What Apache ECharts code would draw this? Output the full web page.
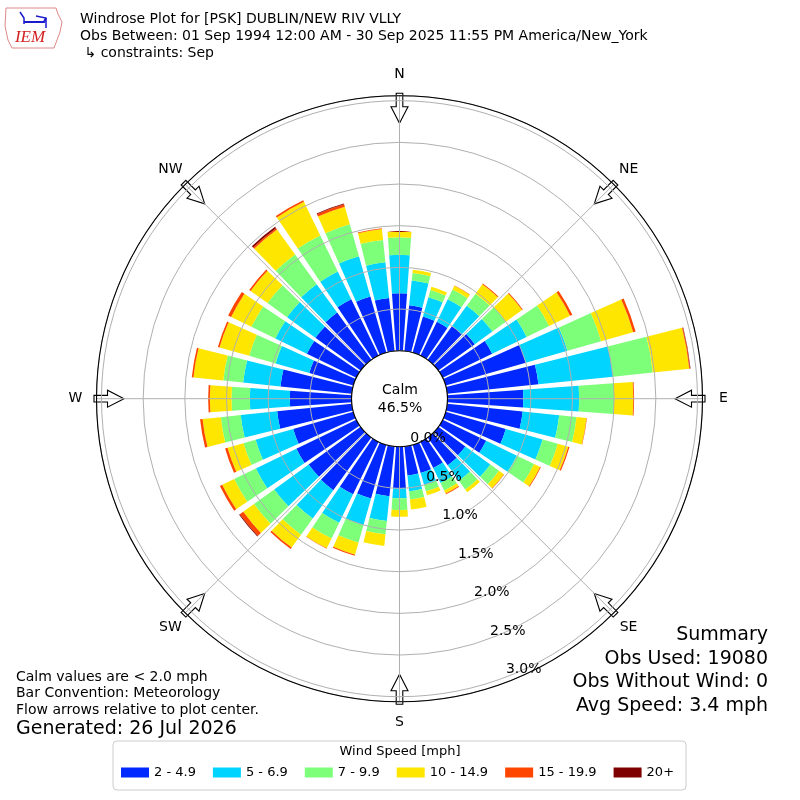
<!DOCTYPE html>
<html><head><meta charset="utf-8">
<script src="https://cdn.jsdelivr.net/npm/echarts@6/dist/echarts.min.js"></script>
<style>html,body{margin:0;padding:0;background:#fff}#c{width:800px;height:800px}</style>
</head><body><div id="c"></div>
<script>
// ---- data (percent of observations per 10-degree direction bin) ----
const directions = ['0','10','20','30','40','50','60','70','80','90','100','110','120','130','140','150','160','170',
  '180','190','200','210','220','230','240','250','260','270','280','290','300','310','320','330','340','350'];
const speed2to5   = [0.69,0.55,0.45,0.45,0.50,0.54,0.66,1.00,1.10,0.91,0.91,0.75,0.58,0.40,0.41,0.35,0.35,0.35,
  0.50,0.60,0.67,0.70,0.78,0.77,0.80,0.75,0.90,0.74,0.86,0.55,0.66,0.67,0.70,0.75,0.70,0.64];
const speed5to7   = [0.46,0.30,0.24,0.30,0.30,0.26,0.46,0.52,0.90,0.67,0.44,0.46,0.41,0.37,0.23,0.20,0.15,0.19,
  0.12,0.30,0.33,0.38,0.42,0.51,0.54,0.47,0.44,0.48,0.45,0.42,0.42,0.42,0.42,0.37,0.50,0.43];
const speed7to10  = [0.21,0.09,0.09,0.13,0.18,0.20,0.30,0.42,0.48,0.42,0.21,0.19,0.23,0.13,0.13,0.10,0.08,0.10,
  0.14,0.16,0.22,0.21,0.24,0.30,0.29,0.15,0.24,0.22,0.24,0.33,0.32,0.29,0.44,0.48,0.40,0.27];
const speed10to15 = [0.07,0.04,0.04,0.05,0.14,0.24,0.28,0.40,0.44,0.23,0.12,0.13,0.08,0.07,0.04,0.04,0.05,0.12,
  0.08,0.14,0.15,0.13,0.19,0.16,0.16,0.20,0.22,0.26,0.36,0.37,0.27,0.25,0.37,0.45,0.22,0.13];
const speed15to20 = [0,0,0,0.005,0.01,0.01,0.03,0.03,0.01,0.01,0.005,0.015,0.01,0.005,0,0.01,0,0,
  0,0,0.015,0.005,0.02,0.05,0.03,0.03,0.03,0.02,0.02,0.02,0.04,0.02,0.02,0.02,0.03,0.01];
const speed20plus = [0,0,0,0,0,0,0,0,0.005,0,0,0,0,0,0,0,0,0,
  0,0,0,0,0,0.01,0,0,0,0,0,0,0,0,0.02,0,0.01,0];
const speedBins = ['2 - 4.9','5 - 6.9','7 - 9.9','10 - 14.9','15 - 19.9','20+'];
const speedColors = ['#0028ff','#00d4ff','#7dff7a','#ffe600','#ff4600','#7f0000'];
const seriesValues = [speed2to5, speed5to7, speed7to10, speed10to15, speed15to20, speed20plus];
const compassNames = {0:'N',45:'NE',90:'E',135:'SE',180:'S',225:'SW',270:'W',315:'NW'};
const radialTicks = [0,0.5,1.0,1.5,2.0,2.5,3.0];
const radialMax = 3.06;
const calmText = ['Calm','46.5%'];
const titleLines = ['Windrose Plot for [PSK] DUBLIN/NEW RIV VLLY',
  'Obs Between: 01 Sep 1994 12:00 AM - 30 Sep 2025 11:55 PM America/New_York',
  ' \u21b3 constraints: Sep'];
const summaryLines = ['Summary','Obs Used: 19080','Obs Without Wind: 0','Avg Speed: 3.4 mph'];
const noteLines = ['Calm values are < 2.0 mph','Bar Convention: Meteorology','Flow arrows relative to plot center.'];
const generatedText = 'Generated: 26 Jul 2026';

// ---- layout ----
const CX = 399.5, CY = 398.7, R0 = 48, R1 = 303, RLABEL = 324;
const FONT = "'DejaVu Sans', sans-serif";
const chart = echarts.init(document.getElementById('c'), null, {renderer:'canvas'});

const graphics = [];
// arrows and direction names at 8 compass points
Object.keys(compassNames).forEach(k => {
  const a = (+k) * Math.PI / 180;
  const ux = Math.sin(a), uy = -Math.cos(a), px = Math.cos(a), py = Math.sin(a);
  const pts = [[275.5,0],[292,8.5],[292,3.3],[305.5,3.3],[305.5,-3.3],[292,-3.3],[292,-8.5]]
    .map(([s,t]) => [CX + s*ux + t*px, CY + s*uy + t*py]);
  graphics.push({type:'polygon', z:3, silent:true, shape:{points:pts},
    style:{fill:'#ffffff', stroke:'#000', lineWidth:1.1}});
  graphics.push({type:'text', z:20, silent:true, style:{text:compassNames[k], x:CX + RLABEL*ux, y:CY + RLABEL*uy,
    align:'center', verticalAlign:'middle', font:'14px ' + FONT, fill:'#000'}});
});
titleLines.forEach((t,i) => graphics.push({type:'text', z:20, style:{text:t, x:80, y:19 + i*17,
  verticalAlign:'middle', align:'left', font:'14px ' + FONT, fill:'#000'}}));
summaryLines.forEach((t,i) => graphics.push({type:'text', z:20, style:{text:t, x:768, y:635 + i*23.7,
  verticalAlign:'middle', align:'right', font:'19px ' + FONT, fill:'#000'}}));
noteLines.forEach((t,i) => graphics.push({type:'text', z:20, style:{text:t, x:16, y:677 + i*16.5,
  verticalAlign:'middle', align:'left', font:'14px ' + FONT, fill:'#000'}}));
graphics.push({type:'text', z:20, style:{text:generatedText, x:16, y:729, verticalAlign:'middle',
  align:'left', font:'19px ' + FONT, fill:'#000'}});
calmText.forEach((t,i) => graphics.push({type:'text', z:20, style:{text:t, x:400, y:390 + i*18,
  verticalAlign:'middle', align:'center', font:'14px ' + FONT, fill:'#000'}}));
graphics.push({type:'text', z:20, style:{text:'Wind Speed [mph]', x:400, y:752, verticalAlign:'middle',
  align:'center', font:'13px ' + FONT, fill:'#000'}});
// IEM logo (approximation)
graphics.push({type:'polyline', z:20, shape:{points:[[6,8],[56,8],[58,14],[62,22],[60,32],[57,40],[54,48],[12,48],[8,40],[5,26],[6,8]]},
  style:{stroke:'#d88', lineWidth:1, fill:null}});
graphics.push({type:'polyline', z:20, shape:{points:[[20,12],[24,18],[24,24]]}, style:{stroke:'#1a1acc', lineWidth:1.5, fill:null}});
graphics.push({type:'polyline', z:20, shape:{points:[[24,22],[44,22],[46,18]]}, style:{stroke:'#1a1acc', lineWidth:2, fill:null}});
graphics.push({type:'polyline', z:20, shape:{points:[[36,16],[46,18],[46,28]]}, style:{stroke:'#1a1acc', lineWidth:1.5, fill:null}});
graphics.push({type:'text', z:20, style:{text:'IEM', x:30, y:38, verticalAlign:'middle', align:'center',
  font:'italic 17px "Liberation Serif", serif', fill:'#d42020'}});

const option = {
  animation:false,
  backgroundColor:'#ffffff',
  textStyle:{fontFamily:FONT},
  polar:[
    {center:[CX,CY], radius:[R0,R1]},
    {center:[CX,CY], radius:[R0,R1]},
    {center:[CX,CY], radius:[R0,R1]}
  ],
  angleAxis:[
    {polarIndex:0, type:'category', data:directions, startAngle:95, clockwise:true, show:false},
    {polarIndex:1, type:'value', min:0, max:360, interval:45, startAngle:90, clockwise:true, z:11,
      axisLine:{show:true, lineStyle:{color:'#000', width:1.1}},
      axisTick:{show:false},
      splitLine:{show:true, lineStyle:{color:'#b0b0b0', width:1}},
      axisLabel:{show:false}},
    {polarIndex:2, type:'value', min:0, max:360, startAngle:-67.5, clockwise:true, show:false}
  ],
  radiusAxis:[
    {polarIndex:0, min:0, max:radialMax, show:false},
    {polarIndex:1, min:0, max:radialMax, interval:0.5, z:10,
      axisLine:{show:false}, axisTick:{show:false}, axisLabel:{show:false},
      splitLine:{show:true, lineStyle:{color:'#b0b0b0', width:1}}},
    {polarIndex:2, min:0, max:radialMax, interval:0.5, z:12,
      axisLine:{show:false}, axisTick:{show:false}, splitLine:{show:false},
      axisLabel:{show:true, margin:11, fontSize:14, color:'#000', fontFamily:FONT, align:'center', verticalAlign:'middle',
        formatter:v => (radialTicks.some(t => Math.abs(t - v) < 1e-6) ? v.toFixed(1) + '%' : '')}}
  ],
  legend:{
    data:speedBins, left:113, top:741, icon:'rect', itemWidth:28, itemHeight:10, itemGap:17,
    padding:[25,12,11,8], borderColor:'#cccccc', borderWidth:1, borderRadius:4,
    textStyle:{fontSize:13, color:'#000', fontFamily:FONT}, selectedMode:false
  },
  graphic:graphics,
  series: speedBins.map((name,k) => ({
    type:'bar', name:name, coordinateSystem:'polar', polarIndex:0, stack:'wind',
    data:seriesValues[k], barCategoryGap:'18%', silent:true,
    itemStyle:{color:speedColors[k]}, emphasis:{disabled:true}
  }))
};
chart.setOption(option);
</script></body></html>
